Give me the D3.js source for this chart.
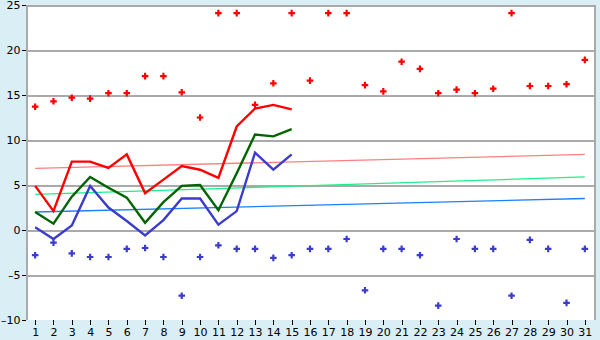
<!DOCTYPE html>
<html>
<head>
<meta charset="utf-8">
<script src="https://cdn.jsdelivr.net/npm/d3@7"></script>
<style>
  body { margin: 0; background: #d9eef5; }
  svg { display: block; font-family: "DejaVu Sans", sans-serif; }
</style>
</head>
<body>
<svg id="chart" width="600" height="340"></svg>
<script>
// days of the month
const days = d3.range(1, 32);
const lineDays = d3.range(1, 16);

// scattered extremes for each day
const maxPoints = [13.7, 14.3, 14.7, 14.6, 15.2, 15.2, 17.1, 17.1, 15.3, 12.5,
                   24.1, 24.1, 13.9, 16.3, 24.1, 16.6, 24.1, 24.1, 16.1, 15.4,
                   18.7, 17.9, 15.2, 15.6, 15.2, 15.7, 24.1, 16.0, 16.0, 16.2, 18.9];
const minPoints = [-2.8, -1.4, -2.6, -3.0, -3.0, -2.1, -2.0, -3.0, -7.3, -3.0,
                   -1.7, -2.1, -2.1, -3.1, -2.8, -2.1, -2.1, -1.0, -6.7, -2.1,
                   -2.1, -2.8, -8.4, -1.0, -2.1, -2.1, -7.3, -1.1, -2.1, -8.1, -2.1];

// series for the first half of the month
const redLine   = [4.9, 2.1, 7.6, 7.6, 6.9, 8.4, 4.1, 5.6, 7.1, 6.7, 5.8, 11.5, 13.5, 13.9, 13.4];
const greenLine = [2.0, 0.7, 3.7, 5.9, 4.7, 3.6, 0.8, 3.1, 4.9, 5.0, 2.2, 6.3, 10.6, 10.4, 11.2];
const blueLine  = [0.3, -1.0, 0.5, 4.9, 2.5, 1.0, -0.6, 1.1, 3.5, 3.5, 0.6, 2.1, 8.6, 6.7, 8.4];

// trend lines: value at day 1 and day 31
const trendDays  = [1, 31];
const redTrend   = [6.85, 8.4];
const greenTrend = [3.95, 5.9];
const blueTrend  = [2.0, 3.5];

const yTicks = [-10, -5, 0, 5, 10, 15, 20, 25];

const svg = d3.select("#chart");
const plotL = 26, plotR = 594, plotT = 5, plotB = 320;

const x = d3.scaleLinear().domain([0.5, 31.5]).range([plotL, plotR]);
const y = d3.scaleLinear().domain([-10, 25]).range([plotB, plotT]);

// plot background
svg.append("rect")
    .attr("x", plotL).attr("y", plotT)
    .attr("width", plotR - plotL + 1).attr("height", plotB - plotT)
    .attr("fill", "#fff");

// gridlines
svg.append("g").selectAll("line")
    .data(yTicks.filter(d => d > -10)).enter().append("line")
    .attr("x1", plotL).attr("x2", plotR + 1)
    .attr("y1", d => Math.round(y(d)) + 0.5).attr("y2", d => Math.round(y(d)) + 0.5)
    .attr("stroke", "#aaa").attr("stroke-width", 2).attr("shape-rendering", "crispEdges");

// left & right borders
svg.append("line").attr("x1", plotL + 0.5).attr("x2", plotL + 0.5).attr("y1", plotT).attr("y2", plotB)
    .attr("stroke", "#aaa").attr("stroke-width", 2).attr("shape-rendering", "crispEdges");
svg.append("line").attr("x1", plotR + 1).attr("x2", plotR + 1).attr("y1", plotT).attr("y2", plotB)
    .attr("stroke", "#aaa").attr("stroke-width", 2).attr("shape-rendering", "crispEdges");

// axes
const yAxis = d3.axisLeft(y).tickValues(yTicks).tickSize(4).tickPadding(1)
    .tickFormat(d => d < 0 ? "\u2013" + Math.abs(d) : d);
const gy = svg.append("g").attr("transform", `translate(${plotL - 0.5},0)`).call(yAxis);
gy.select(".domain").remove();

const xAxis = d3.axisBottom(x).tickValues(days).tickSize(5).tickPadding(3);
const gx = svg.append("g").attr("transform", `translate(0,${plotB})`).call(xAxis);
gx.select(".domain").remove();

[gx, gy].forEach(g => {
    g.selectAll("text").attr("font-size", 11).attr("fill", "#000")
        .attr("font-family", "DejaVu Sans, sans-serif");
    g.selectAll("line").attr("stroke", "#000").attr("shape-rendering", "crispEdges");
});

// trend lines
const trendLine = d3.line().x(d => x(d[0])).y(d => y(d[1]));
[[redTrend, "#ff8080"], [greenTrend, "#1ef088"], [blueTrend, "#1a80ff"]].forEach(([vals, col]) => {
    svg.append("path")
        .datum(trendDays.map((d, i) => [d, vals[i]]))
        .attr("d", trendLine)
        .attr("fill", "none").attr("stroke", col).attr("stroke-width", 1.3);
});

// main lines
const line = d3.line().x(d => x(d[0])).y(d => y(d[1]));
[[redLine, "#ff0000"], [greenLine, "#006400"], [blueLine, "#3c3ccc"]].forEach(([vals, col]) => {
    svg.append("path")
        .datum(lineDays.map((d, i) => [d, vals[i]]))
        .attr("d", line)
        .attr("fill", "none").attr("stroke", col).attr("stroke-width", 2.4)
        .attr("stroke-linejoin", "miter");
});

// markers
const cross = d3.symbol().type(d3.symbolCross).size(24);
[[maxPoints, "#ff0000"], [minPoints, "#3c3ccc"]].forEach(([vals, col]) => {
    svg.append("g").selectAll("path")
        .data(days.map((d, i) => [d, vals[i]])).enter().append("path")
        .attr("d", cross)
        .attr("transform", d => `translate(${x(d[0])},${y(d[1])})`)
        .attr("fill", col);
});
</script>
</body>
</html>
